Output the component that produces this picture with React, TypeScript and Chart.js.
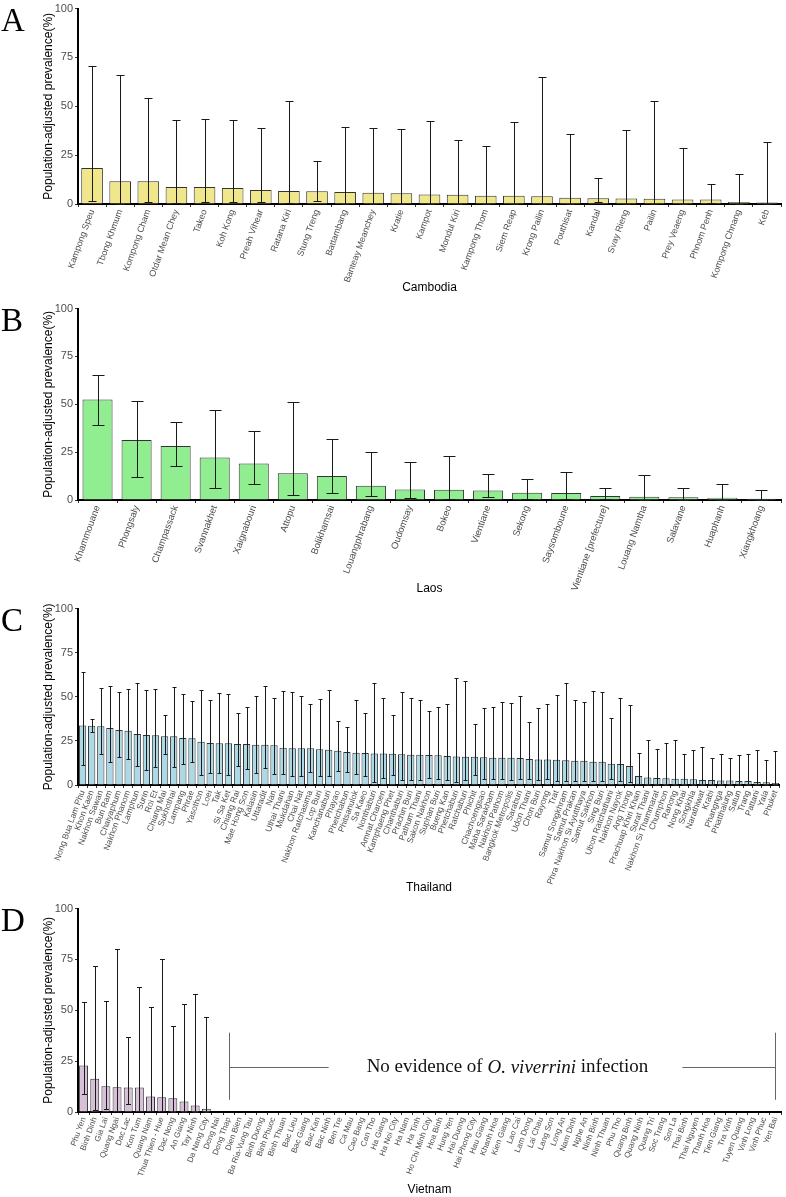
import React, { useEffect, useRef } from "react";
import { Chart, registerables } from "chart.js";

Chart.register(...registerables);
Chart.defaults.font.family = '"Liberation Sans", Arial, sans-serif';

// ---------- DATA ----------
const prevalenceTicks = [0, 25, 50, 75, 100];
const yAxisTitle = "Population-adjusted prevalence(%)";

const cambodiaProvinces = ["Kampong Speu", "Tbong Khmum", "Kompong Cham", "Otdar Mean Chey", "Takeo", "Koh Kong", "Preah Vihear", "Ratana Kiri", "Stung Treng", "Battambang", "Banteay Meanchey", "Kratie", "Kampot", "Mondul Kiri", "Kampong Thom", "Siem Reap", "Krong Pailin", "Pouthisat", "Kandal", "Svay Rieng", "Pailin", "Prey Veaeng", "Phnom Penh", "Kompong Chnang", "Keb"];
const cambodiaPrevalence = [18.4, 11.7, 11.7, 8.7, 8.7, 8.2, 7.2, 6.7, 6.5, 6.2, 5.7, 5.5, 4.9, 4.7, 4.2, 4.2, 4.0, 3.2, 3.0, 2.8, 2.7, 2.3, 2.3, 1.0, 0.8];
const cambodiaLower = [1.3, 0.1, 0.8, 0.5, 0.8, 0.8, 0.8, 0.3, 1.3, 0.2, 0.2, 0.2, 0.1, 0.1, 0.1, 0.1, 0.1, 0.1, 0.8, 0.1, 0.1, 0.1, 0.5, 0.1, 0];
const cambodiaUpper = [70.7, 66.2, 54.0, 42.9, 43.6, 42.9, 38.9, 52.6, 22.1, 39.4, 38.9, 38.2, 42.7, 33.0, 29.6, 41.9, 64.8, 35.8, 13.2, 37.7, 52.6, 28.6, 10.2, 15.1, 31.8];

const laosProvinces = ["Khammouane", "Phongsaly", "Champassack", "Svannakhet", "Xaignabouri", "Attopu", "Bolikhamsai", "Louangphrabang", "Oudomsay", "Bokeo", "Vientiane", "Sekong", "Saysomboune", "Vientiane [prefecture]", "Louang Namtha", "Salavane", "Huaphanh", "Xiangkhoang"];
const laosPrevalence = [52.5, 31.3, 28.2, 22.2, 19.1, 14.0, 12.5, 7.5, 5.5, 5.3, 5.0, 3.8, 3.6, 2.1, 1.7, 1.4, 1.2, 0.7];
const laosLower = [39.1, 12.1, 17.8, 6.5, 8.5, 2.6, 3.8, 1.9, 0.9, 0.5, 1.4, 0.5, 0.5, 0.5, 0.2, 0.2, 0.1, 0];
const laosUpper = [65.3, 51.5, 41.0, 47.2, 35.9, 51.3, 32.0, 25.3, 19.8, 23.1, 13.7, 10.8, 14.4, 6.2, 13.0, 6.2, 8.2, 5.0];

const thailandProvinces = ["Nong Bua Lam Phu", "Khon Kaen", "Nakhon Sawan", "Buri Ram", "Chaiyaphum", "Nakhon Phanom", "Lamphun", "Surin", "Roi Et", "Chiang Mai", "Sukhothai", "Lampang", "Phrae", "Yasothon", "Loei", "Tak", "Si Sa Ket", "Chiang Rai", "Mae Hong Son", "Kalasin", "Uttaradit", "Nan", "Uthai Thani", "Mukdahan", "Chai Nat", "Nakhon Ratchasima", "Lop Buri", "Kanchanaburi", "Phayao", "Phetchabun", "Phitsanulok", "Sa Kaeo", "Nonthaburi", "Amnat Charoen", "Kamphaeng Phet", "Chanthaburi", "Prachin Buri", "Pathum Thani", "Sakon Nakhon", "Suphan Buri", "Bueng Kan", "Phetchaburi", "Ratchaburi", "Phichit", "Chachoengsao", "Maha Sarakham", "Nakhon Pathom", "Bangkok Metropolis", "Saraburi", "Udon Thani", "Chon Buri", "Rayong", "Trat", "Samut Songkhram", "Samut Prakan", "Phra Nakhon Si Ayutthaya", "Samut Sakhon", "Sing Buri", "Ubon Ratchathani", "Nakhon Nayok", "Ang Thong", "Prachuap Khiri Khan", "Surat Thani", "Nakhon Si Thammarat", "Chumphon", "Ranong", "Nong Khai", "Songkhla", "Narathiwat", "Krabi", "Phangnga", "Phatthalung", "Satun", "Trang", "Pattani", "Yala", "Phuket"];
const thailandPrevalence = [33.8, 33.6, 33.3, 32.3, 31.2, 30.8, 28.9, 28.4, 28.2, 27.6, 27.6, 26.7, 26.5, 24.5, 23.8, 23.6, 23.6, 23.2, 23.2, 22.8, 22.8, 22.6, 21.1, 20.9, 20.9, 20.9, 20.2, 20.0, 19.4, 18.7, 18.3, 18.1, 17.9, 17.9, 17.7, 17.5, 17.2, 17.2, 17.0, 16.8, 16.4, 16.2, 16.0, 16.0, 15.7, 15.5, 15.5, 15.5, 15.3, 14.7, 14.5, 14.5, 14.3, 14.0, 13.8, 13.8, 13.2, 13.2, 12.1, 11.9, 10.8, 5.1, 4.2, 4.0, 3.8, 3.6, 3.6, 3.2, 2.8, 2.8, 2.5, 2.5, 2.3, 2.3, 1.7, 1.5, 1.1];
const thailandLower = [11.3, 30.0, 17.5, 12.8, 15.6, 14.7, 10.9, 8.5, 10.0, 17.3, 10.4, 11.9, 13.2, 5.7, 6.8, 6.8, 5.7, 10.6, 9.1, 7.0, 9.4, 6.2, 6.2, 5.1, 5.1, 7.2, 4.9, 5.1, 7.9, 7.4, 6.0, 5.3, 1.9, 3.8, 5.7, 3.0, 3.0, 2.8, 4.0, 3.6, 3.0, 1.9, 3.0, 5.8, 3.4, 3.2, 3.2, 3.0, 3.4, 3.6, 3.0, 3.4, 2.3, 2.1, 2.1, 2.1, 2.3, 2.5, 3.4, 2.1, 1.5, 0.4, 0.2, 0.2, 0.2, 0.2, 0.2, 0.2, 0.2, 0.1, 0.1, 0.1, 0.1, 0.1, 0.1, 0.1, 0.1];
const thailandUpper = [64.2, 37.6, 55.0, 56.0, 53.0, 54.6, 57.6, 54.1, 54.5, 39.4, 55.6, 51.5, 47.5, 53.8, 48.3, 51.9, 51.7, 40.9, 44.3, 50.6, 56.4, 49.4, 53.2, 52.6, 50.4, 46.0, 48.5, 53.6, 36.4, 32.8, 48.1, 40.6, 58.1, 49.4, 39.8, 52.5, 49.4, 48.3, 42.1, 44.2, 46.0, 60.8, 59.1, 34.3, 43.8, 44.0, 46.8, 46.4, 50.4, 35.7, 43.4, 46.0, 50.8, 57.9, 48.1, 47.2, 53.2, 52.5, 37.9, 49.2, 45.5, 18.3, 25.7, 20.6, 24.0, 25.3, 17.5, 20.0, 21.3, 15.1, 17.5, 15.3, 17.2, 17.4, 20.0, 14.3, 19.2];

const vietnamProvinces = ["Phu Yen", "Binh Dinh", "Gia Lai", "Quang Ngai", "Dac Lac", "Kon Tum", "Quang Nam", "Thua Thien - Hue", "Dac Nong", "An Giang", "Tay Ninh", "Da Nang City", "Dong Nai", "Dong Thap", "Dien Bien", "Ba Ria-Vung Tau", "Binh Duong", "Binh Phuoc", "Binh Thuan", "Bac Lieu", "Bac Giang", "Bac Kan", "Bac Ninh", "Ben Tre", "Ca Mau", "Cao Bang", "Can Tho", "Ha Giang", "Ha Noi City", "Ha Nam", "Ha Tinh", "Ho Chi Minh City", "Hoa Binh", "Hung Yen", "Hai Duong", "Hai Phong City", "Hau Giang", "Khanh Hoa", "Kien Giang", "Lao Cai", "Lam Dong", "Lai Chau", "Lang Son", "Long An", "Nam Dinh", "Nghe An", "Ninh Binh", "Ninh Thuan", "Phu Tho", "Quang Binh", "Quang Ninh", "Quang Tri", "Soc Trang", "Son La", "Thai Binh", "Thai Nguyen", "Thanh Hoa", "Tien Giang", "Tra Vinh", "Tuyen Quang", "Vinh Long", "Vinh Phuc", "Yen Bai"];
const vietnamPrevalence = [22.9, 16.4, 12.6, 12.2, 12.1, 12.1, 7.6, 7.2, 6.8, 5.2, 3.2, 1.6, 0, 0, 0, 0, 0, 0, 0, 0, 0, 0, 0, 0, 0, 0, 0, 0, 0, 0, 0, 0, 0, 0, 0, 0, 0, 0, 0, 0, 0, 0, 0, 0, 0, 0, 0, 0, 0, 0, 0, 0, 0, 0, 0, 0, 0, 0, 0, 0, 0, 0, 0];
const vietnamLower = [8.7, 0.8, 1.4, 0.5, 4.0, 0.6, 0.6, 0.3, 0.2, 0.1, 0.1, 0];
const vietnamUpper = [54.3, 72.0, 54.8, 80.2, 36.7, 61.7, 51.7, 75.0, 42.5, 53.0, 58.1, 46.9];
const noEvidenceFrom = "Dong Thap";
const noEvidenceTo = "Yen Bai";

// ---------- PLUGINS ----------
const errorBarPlugin = {
  id: "errorBars",
  afterDatasetsDraw(chart: any, _args: any, opts: any) {
    const { lower, upper, capHalf } = opts || {};
    if (!lower || !upper) return;
    const x = chart.scales.x;
    const y = chart.scales.y;
    const ctx = chart.ctx;
    ctx.save();
    ctx.strokeStyle = "#1a1a1a";
    ctx.lineWidth = 1;
    for (let i = 0; i < lower.length; i++) {
      const px = Math.round(x.getPixelForValue(i)) + 0.5;
      const yl = Math.round(y.getPixelForValue(lower[i])) + 0.5;
      const yu = Math.round(y.getPixelForValue(upper[i])) + 0.5;
      ctx.beginPath();
      ctx.moveTo(px, yl);
      ctx.lineTo(px, yu);
      ctx.moveTo(px - capHalf, yu);
      ctx.lineTo(px + capHalf, yu);
      ctx.moveTo(px - capHalf, yl);
      ctx.lineTo(px + capHalf, yl);
      ctx.stroke();
    }
    ctx.restore();
  },
};

const noEvidencePlugin = {
  id: "noEvidence",
  afterDraw(chart: any, _args: any, opts: any) {
    if (!opts || !opts.from) return;
    const x = chart.scales.x;
    const y = chart.scales.y;
    const ctx = chart.ctx;
    const labels = chart.data.labels as string[];
    const x0 = Math.round(x.getPixelForValue(labels.indexOf(opts.from))) + 0.5;
    const x1 = Math.round(x.getPixelForValue(labels.indexOf(opts.to))) + 0.5;
    const yTop = y.getPixelForValue(opts.bracketTop);
    const yBot = y.getPixelForValue(opts.bracketBottom);
    const yMid = Math.round(y.getPixelForValue(opts.level)) + 0.5;
    const parts = [
      { t: "No evidence of ", f: '19px "Liberation Serif", "Times New Roman", serif' },
      { t: "O. viverrini", f: 'italic 19px "Liberation Serif", "Times New Roman", serif' },
      { t: " infection", f: '19px "Liberation Serif", "Times New Roman", serif' },
    ];
    ctx.save();
    let total = 0;
    const widths = parts.map((p) => {
      ctx.font = p.f;
      const w = ctx.measureText(p.t).width;
      total += w;
      return w;
    });
    const cx = (x0 + x1) / 2 + 5;
    let tx = cx - total / 2;
    ctx.fillStyle = "#111";
    ctx.textBaseline = "middle";
    ctx.textAlign = "left";
    parts.forEach((p, i) => {
      ctx.font = p.f;
      ctx.fillText(p.t, tx, yMid);
      tx += widths[i];
    });
    ctx.strokeStyle = "#666";
    ctx.lineWidth = 1;
    ctx.beginPath();
    ctx.moveTo(x0, yTop);
    ctx.lineTo(x0, yBot);
    ctx.moveTo(x1, yTop);
    ctx.lineTo(x1, yBot);
    ctx.moveTo(x0, yMid);
    ctx.lineTo(cx - total / 2 - 38, yMid);
    ctx.moveTo(cx + total / 2 + 34, yMid);
    ctx.lineTo(x1, yMid);
    ctx.stroke();
    ctx.restore();
  },
};

// ---------- PANEL ----------
type PanelProps = {
  top: number;
  height: number;
  letter: string;
  labels: string[];
  values: number[];
  lower: number[];
  upper: number[];
  color: string;
  title: string;
  tickFont: number;
  xHeight: number;
  titleBottom: number;
  barPct: number;
  capHalf: number;
  annotation?: any;
};

function Panel(p: PanelProps) {
  const ref = useRef<HTMLCanvasElement>(null);
  useEffect(() => {
    if (!ref.current) return;
    const chart = new Chart(ref.current, {
      type: "bar",
      data: {
        labels: p.labels,
        datasets: [
          {
            data: p.values,
            backgroundColor: p.color,
            borderColor: "#333333",
            borderWidth: 1,
            barPercentage: p.barPct,
            categoryPercentage: 1,
          },
        ],
      },
      options: {
        animation: false,
        responsive: false,
        layout: { padding: { top: 5, right: 5, left: 0, bottom: 0 } },
        plugins: {
          legend: { display: false },
          tooltip: { enabled: false },
          errorBars: { lower: p.lower, upper: p.upper, capHalf: p.capHalf },
          noEvidence: p.annotation || {},
        } as any,
        scales: {
          x: {
            grid: { display: true, drawOnChartArea: false, drawTicks: true, tickLength: 3, color: "#333" },
            border: { display: true, color: "#000", width: 2 },
            ticks: {
              autoSkip: false,
              minRotation: 70,
              maxRotation: 70,
              color: "#4d4d4d",
              padding: 1,
              font: { size: p.tickFont },
            },
            title: {
              display: true,
              text: p.title,
              color: "#000",
              font: { size: 12 },
              padding: { top: 0, bottom: p.titleBottom },
            },
            afterFit: (s: any) => {
              s.height = p.xHeight;
            },
          },
          y: {
            min: 0,
            max: 100,
            afterBuildTicks: (s: any) => {
              s.ticks = prevalenceTicks.map((v) => ({ value: v }));
            },
            ticks: { color: "#4d4d4d", font: { size: 11 }, padding: 2 },
            grid: { display: true, drawOnChartArea: false, drawTicks: true, tickLength: 3, color: "#333" },
            border: { display: true, color: "#000", width: 2 },
            title: {
              display: true,
              text: yAxisTitle,
              color: "#000",
              font: { size: 12 },
              padding: { top: 41, bottom: 0 },
            },
            afterFit: (s: any) => {
              s.width = 78;
            },
          },
        },
      } as any,
      plugins: [errorBarPlugin, noEvidencePlugin],
    });
    return () => chart.destroy();
  }, []);
  return (
    <div style={{ position: "absolute", left: 0, top: p.top, width: 786, height: p.height }}>
      <canvas ref={ref} width={786} height={p.height} style={{ display: "block" }} />
      <div
        style={{
          position: "absolute",
          left: 1,
          top: 4,
          fontFamily: '"Liberation Serif", "Times New Roman", serif',
          fontSize: 33,
          lineHeight: "33px",
          color: "#000",
        }}
      >
        {p.letter}
      </div>
    </div>
  );
}

export default function App() {
  return (
    <div style={{ position: "absolute", left: 0, top: 0, width: 786, height: 1197, background: "#fff" }}>
      <Panel top={0} height={300} letter="A" labels={cambodiaProvinces} values={cambodiaPrevalence} lower={cambodiaLower} upper={cambodiaUpper} color="#F0E68C" title="Cambodia" tickFont={9} xHeight={96} titleBottom={5} barPct={0.77} capHalf={4} />
      <Panel top={300} height={300} letter="B" labels={laosProvinces} values={laosPrevalence} lower={laosLower} upper={laosUpper} color="#90EE90" title="Laos" tickFont={9.5} xHeight={100} titleBottom={4} barPct={0.77} capHalf={6} />
      <Panel top={600} height={300} letter="C" labels={thailandProvinces} values={thailandPrevalence} lower={thailandLower} upper={thailandUpper} color="#ADD8E6" title="Thailand" tickFont={8.5} xHeight={115} titleBottom={5} barPct={0.8} capHalf={2} />
      <Panel
        top={900}
        height={297}
        letter="D"
        labels={vietnamProvinces}
        values={vietnamPrevalence}
        lower={vietnamLower}
        upper={vietnamUpper}
        color="#D8BFD8"
        title="Vietnam"
        tickFont={8}
        xHeight={85}
        titleBottom={0}
        barPct={0.8}
        capHalf={2.5}
        annotation={{ from: noEvidenceFrom, to: noEvidenceTo, bracketTop: 39, bracketBottom: 6, level: 22 }}
      />
    </div>
  );
}
